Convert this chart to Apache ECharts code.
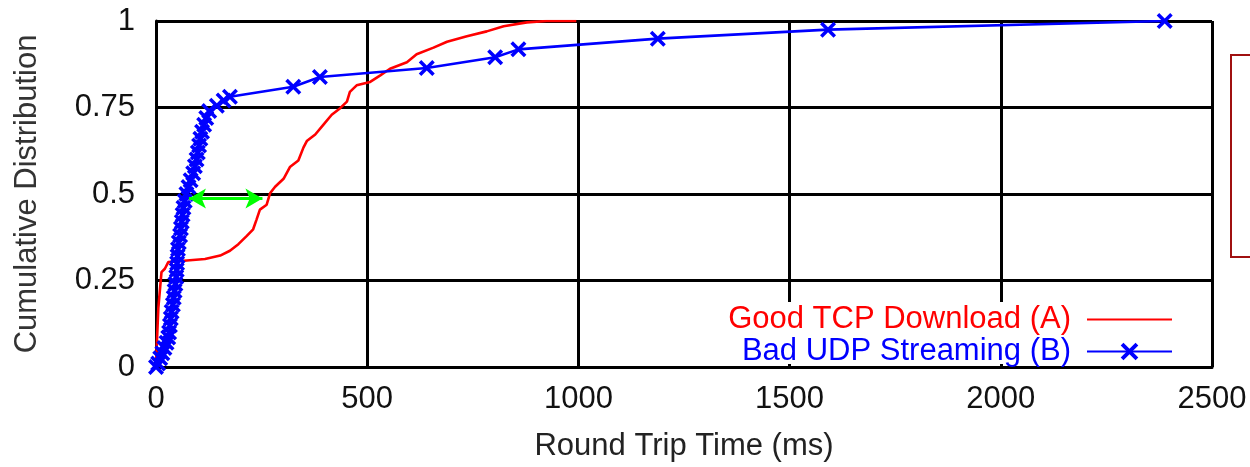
<!DOCTYPE html>
<html><head><meta charset="utf-8">
<script src="https://cdn.jsdelivr.net/npm/echarts@6/dist/echarts.min.js"></script>
<style>html,body{margin:0;padding:0;background:#fff}#c{width:1250px;height:467px}</style>
</head><body><div id="c"></div>
<script>
const tcpName = 'Good TCP Download (A)';
const udpName = 'Bad UDP Streaming (B)';
const xAxisTitle = 'Round Trip Time (ms)';
const yAxisTitle = 'Cumulative Distribution';

// [RTT ms, cumulative fraction]
const tcpPoints = [
  [0,0.01],[5.5,0.17],[13,0.274],[21,0.284],[29,0.303],[73,0.308],[116,0.312],[152,0.322],
  [175,0.336],[195,0.355],[215,0.379],[230,0.398],[238,0.426],[246,0.455],[262,0.469],
  [270,0.502],[282,0.521],[302,0.544],[317,0.578],[337,0.597],[349,0.634],[357,0.653],
  [377,0.672],[396,0.70],[416,0.729],[436,0.748],[452,0.767],[459,0.795],[475,0.814],
  [507,0.824],[531,0.843],[554,0.862],[594,0.881],[617,0.904],[657,0.923],[689,0.94],
  [736,0.956],[783,0.97],[823,0.985],[878,0.996],[925,1.0],[995,1.0]
];
const udpPoints = [
  [0,0.0],[5,0.01],[10,0.025],[15,0.04],[20,0.055],[25,0.07],[29,0.085],[31,0.10],[33,0.12],
  [35,0.14],[37,0.16],[40,0.18],[42,0.20],[44,0.22],[46,0.24],[48,0.26],[49,0.28],[50,0.30],
  [51,0.32],[52,0.34],[54,0.36],[57,0.38],[59,0.40],[61,0.42],[63,0.44],[65,0.46],[68,0.48],
  [72,0.50],[77,0.52],[82,0.54],[88,0.56],[92,0.58],[96,0.60],[99,0.62],[102,0.64],[105,0.66],
  [109,0.68],[114,0.70],[119,0.72],[126,0.74],[144,0.755],[160,0.77],[175,0.781],
  [325,0.81],[388,0.838],[641,0.864],[803,0.895],[858,0.918],[1188,0.949],[1591,0.975],[2388,1.0]
];
// green double arrow (median gap), in data units
const arrowFrom = [78, 0.487];
const arrowTo = [252, 0.487];

const xMin = 0, xMax = 2500, xStep = 500;
const yMin = 0, yMax = 1, yStep = 0.25;

const FONT = '"Liberation Sans", Arial, sans-serif';
const crossPath = 'path://M0,2.5L2.5,0L8,5.5L13.5,0L16,2.5L10.5,8L16,13.5L13.5,16L8,10.5L2.5,16L0,13.5L5.5,8Z';

const chart = echarts.init(document.getElementById('c'), null, {renderer:'canvas'});
chart.setOption({
  animation: false,
  backgroundColor: '#fff',
  textStyle: {fontFamily: FONT},
  grid: {left: 156, right: 38, top: 21, bottom: 94, containLabel: false},
  xAxis: {
    type: 'value', min: xMin, max: xMax, interval: xStep,
    name: xAxisTitle, nameLocation: 'middle', nameGap: 64,
    nameTextStyle: {fontSize: 31, color: '#222', fontFamily: FONT},
    axisLine: {show: true, onZero: false, lineStyle: {color: '#000', width: 3}},
    axisTick: {show: false},
    axisLabel: {fontSize: 31, color: '#111', margin: 17, fontFamily: FONT,
                formatter: v => String(v)},
    splitLine: {show: true, lineStyle: {color: '#000', width: 3}}
  },
  yAxis: {
    type: 'value', min: yMin, max: yMax, interval: yStep,
    name: yAxisTitle, nameLocation: 'middle', nameRotate: 90, nameGap: 113,
    nameTextStyle: {fontSize: 31, color: '#333', fontFamily: FONT},
    axisLine: {show: true, onZero: false, lineStyle: {color: '#000', width: 3}},
    axisTick: {show: false},
    axisLabel: {fontSize: 31, color: '#111', margin: 21, fontFamily: FONT,
                formatter: v => String(v)},
    splitLine: {show: true, lineStyle: {color: '#000', width: 3}}
  },
  legend: {
    data: [
      {name: tcpName, textStyle: {color: '#ff0000'}, itemStyle: {opacity: 0, borderWidth: 0}},
      {name: udpName, textStyle: {color: '#0000ff'}}
    ],
    orient: 'vertical', align: 'right', right: 73, top: 302, padding: [2, 4, 0, 4],
    itemWidth: 85, itemHeight: 22, itemGap: 1,
    selectedMode: false,
    textStyle: {fontSize: 31, fontFamily: FONT, lineHeight: 31, padding: [0, 11, 0, 0]}
  },
  series: [
    {
      name: tcpName, type: 'line', data: tcpPoints, showSymbol: false, symbol: 'none',
      lineStyle: {color: '#ff0000', width: 2.6}, itemStyle: {color: '#ff0000'}, z: 2,
      markLine: {
        silent: true, symbol: ['arrow', 'arrow'], symbolSize: [15, 17],
        label: {show: false},
        lineStyle: {color: '#00ff00', width: 3, type: 'solid'},
        data: [[{coord: arrowFrom}, {coord: arrowTo}]]
      }
    },
    {
      name: udpName, type: 'line', data: udpPoints, symbol: crossPath, symbolSize: 16,
      showSymbol: true,
      lineStyle: {color: '#0000ff', width: 2.6}, itemStyle: {color: '#0000ff'}, z: 3
    }
  ],
  graphic: [
    {type: 'rect', z: 1, silent: true, shape: {x: 722, y: 302, width: 460, height: 62},
     style: {fill: '#fff'}},
    {type: 'rect', z: 10, shape: {x: 1231, y: 55, width: 60, height: 202},
     style: {fill: 'none', stroke: '#a01010', lineWidth: 2}}
  ]
});
</script>
</body></html>
